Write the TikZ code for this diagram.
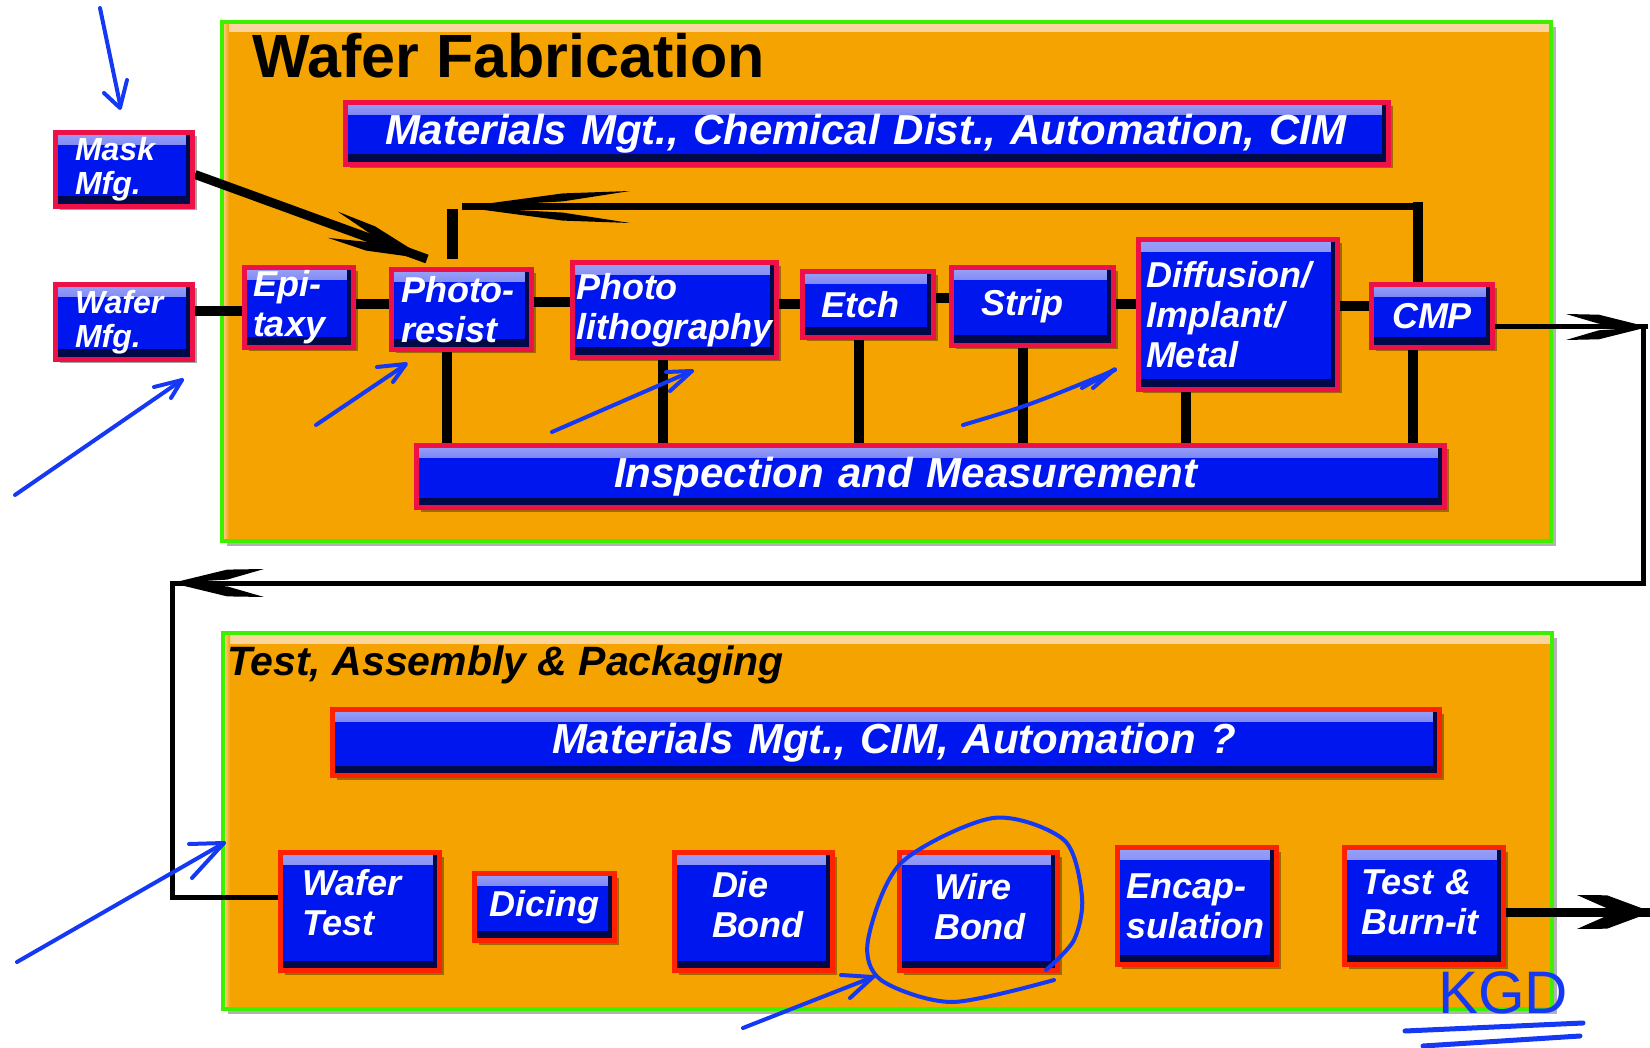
\documentclass[tikz,border=0pt]{standalone}
\usepackage{fontspec}
\setmainfont{Liberation Sans}
\usetikzlibrary{shadows}
\pgfdeclarelayer{back}\pgfdeclarelayer{mid}\pgfdeclarelayer{front}
\pgfsetlayers{back,mid,main,front}
\definecolor{bxblue}{HTML}{0016EE}
\definecolor{bvtop}{HTML}{9AA2F6}
\definecolor{bvdark}{HTML}{000A48}
\definecolor{redtop}{HTML}{EE1148}
\definecolor{redbot}{HTML}{FF2200}
\definecolor{orgfill}{HTML}{F5A300}
\definecolor{orglight}{HTML}{FAD7A0}
\definecolor{grn}{HTML}{3CF000}
\definecolor{annblue}{HTML}{1538F5}
\newcommand\fontbx{\fontsize{36}{40}\selectfont\bfseries\itshape\hyphenpenalty=10000 }
\newcommand\fontbig{\fontsize{42}{46}\selectfont\bfseries\itshape\hyphenpenalty=10000 }
\newcommand\fontsm{\fontsize{32}{34}\selectfont\bfseries\itshape\hyphenpenalty=10000 }
% name, x1, y1, x2, y2, pad, style, text
\newcommand\bx[8]{%
  \pgfmathsetmacro\bxw{#4-#2-5}%
  \pgfmathsetmacro\bxh{#5-#3-5}%
  \pgfmathsetmacro\bxt{#4-#2-2*#6}%
  \node[#7,minimum width=\bxw pt,minimum height=\bxh pt,text width=\bxt pt] (#1) at ({(#2+#4)/2},{(#3+#5)/2}) {#8};}
% coordinate, angle, length, half width, thickness
\newcommand\barbs[5]{%
  \fill[shift={(#1)},rotate=#2] (0,0) -- ({0.6*#3},{-0.6*#4-#5/2}) -- (#3,-#4) -- ({0.6*#3},{-0.6*#4+#5/2}) -- cycle
  (0,0) -- ({0.6*#3},{0.6*#4+#5/2}) -- (#3,#4) -- ({0.6*#3},{0.6*#4-#5/2}) -- cycle;}
\begin{document}
\begin{tikzpicture}[x=1pt,y=-1pt,
  bevel/.style={path picture={
    \shade[top color=bvtop,bottom color=bxblue] (path picture bounding box.north west) rectangle ([yshift=-12pt]path picture bounding box.north east);
    \fill[bvdark] ([xshift=-7pt]path picture bounding box.north east) rectangle (path picture bounding box.south east);
    \fill[bvdark] (path picture bounding box.south west) rectangle ([yshift=10pt]path picture bounding box.south east);
  }},
  bx/.style={draw=redtop,line width=5pt,fill=bxblue,bevel,text=white,inner sep=0pt,align=left,font=\fontbx,
    drop shadow={shadow xshift=4pt,shadow yshift=-4pt,fill=black,opacity=0.35}},
  bxb/.style={bx,draw=redbot},
  gbox/.style={fill=orgfill,draw=grn,line width=4pt,inner sep=0pt,
    drop shadow={shadow xshift=5pt,shadow yshift=-5pt,fill=black,opacity=0.3},
    path picture={
      \shade[top color=orglight,bottom color=orgfill] (path picture bounding box.north west) rectangle ([yshift=-10pt]path picture bounding box.north east);
      \shade[left color=orglight,right color=orgfill] (path picture bounding box.north west) rectangle ([xshift=7pt]path picture bounding box.south west);
    }},
  conn/.style={line width=10pt,black},
  thinc/.style={line width=5pt,black,line join=miter},
  note/.style={draw=annblue,line width=4pt,line cap=round,line join=round}
]
\useasboundingbox (0,0) rectangle (1650,1048);

% ---------- section frames
\begin{pgfonlayer}{back}
\node[gbox,minimum width=1329pt,minimum height=519pt] (fab) at (886.5,281.5) {};
\node[gbox,minimum width=1329pt,minimum height=376pt] (tap) at (887.5,821) {};
\end{pgfonlayer}

\node[anchor=base west,inner sep=0pt,font=\fontsize{61}{70}\selectfont\bfseries] (t1) at (252,78) {Wafer Fabrication};
\node[anchor=base west,inner sep=0pt,font=\fontsize{41}{48}\selectfont\bfseries\itshape] (t2) at (227,675) {Test, Assembly \& Packaging};

% ---------- boxes: wafer fabrication
\bx{mat1}{343}{100}{1391}{167}{42}{bx,font=\fontbig}{\mbox{Materials Mgt., Chemical Dist., Automation, CIM}}
\bx{insp}{414}{443}{1447}{510}{200}{bx,font=\fontbig}{\mbox{Inspection and Measurement}}
\bx{mask}{53}{130}{195}{209}{22}{bx,font=\fontsm}{Mask\\Mfg.}
\bx{wafer}{53}{282}{195}{362}{22}{bx,font=\fontsm}{Wafer\\Mfg.}
\bx{epi}{242}{265}{356}{350}{11}{bx}{Epi-\\taxy}
\bx{pr}{389}{267}{534}{352}{12}{bx}{Photo-\\resist}
\bx{pl}{570}{260}{779}{360}{6}{bx}{Photo\\lithography}
\bx{etch}{800}{269}{936}{340}{21}{bx}{Etch}
\bx{strip}{949}{265}{1116}{348}{32}{bx}{Strip}
\bx{diff}{1136}{237}{1340}{392}{10}{bx}{Diffusion/\\Implant/\\Metal}
\bx{cmp}{1369}{282}{1495}{350}{8}{bx,align=center}{CMP}

% ---------- boxes: test, assembly & packaging
\bx{mat2}{330}{707}{1442}{778}{222}{bxb,font=\fontbig}{\mbox{Materials Mgt.,\hspace{14pt}CIM, Automation ?}}
\bx{wtest}{278}{850}{442}{973}{24}{bxb,text depth=58pt}{Wafer\\Test}
\bx{dicing}{472}{871}{617}{943}{8}{bxb,align=center}{Dicing}
\bx{diebond}{672}{850}{835}{973}{40}{bxb,text depth=54pt}{Die\\Bond}
\bx{wirebond}{897}{850}{1060}{973}{37}{bxb,text depth=50pt}{Wire\\Bond}
\bx{encap}{1115}{845}{1279}{967}{11}{bxb}{Encap-\\sulation}
\bx{tb}{1342}{845}{1506}{967}{19}{bxb,text depth=48pt}{Test \&\\Burn-it}

% ---------- connectors
\coordinate (ha) at (0,311); \coordinate (hb) at (0,304); \coordinate (hc) at (0,302);
\coordinate (hd) at (0,304); \coordinate (he) at (0,298); \coordinate (hf) at (0,304);
\coordinate (hg) at (0,306);
\coordinate (va) at (447,0); \coordinate (vb) at (663,0); \coordinate (vc) at (859,0);
\coordinate (vd) at (1023,0); \coordinate (ve) at (1186,0); \coordinate (vf) at (1413,0);
\coordinate (fbR) at (1418,207); \coordinate (fbtip) at (462,207); \coordinate (fbbar) at (452,209);
\coordinate (mtip) at (427,259);
\coordinate (cR) at (1643,327); \coordinate (cRtip) at (1648,327);
\coordinate (cL) at (172,583); \coordinate (cB) at (172,897);
\coordinate (oT) at (1652,912);
\begin{pgfonlayer}{mid}
\draw[conn] (wafer.east |- ha) -- (epi.west |- ha);
\draw[conn] (epi.east |- hb) -- (pr.west |- hb);
\draw[conn] (pr.east |- hc) -- (pl.west |- hc);
\draw[conn] (pl.east |- hd) -- (etch.west |- hd);
\draw[conn] (etch.east |- he) -- (strip.west |- he);
\draw[conn] (strip.east |- hf) -- (diff.west |- hf);
\draw[conn] (diff.east |- hg) -- (cmp.west |- hg);
\draw[conn] (va |- pr.south) -- (va |- insp.north);
\draw[conn] (vb |- pl.south) -- (vb |- insp.north);
\draw[conn] (vc |- etch.south) -- (vc |- insp.north);
\draw[conn] (vd |- strip.south) -- (vd |- insp.north);
\draw[conn] (ve |- diff.south) -- (ve |- insp.north);
\draw[conn] (vf |- cmp.south) -- (vf |- insp.north);
% feedback loop
\draw[line width=10pt] (fbR |- cmp.north) -- ([yshift=5pt]fbR);
\draw[line width=7pt] (fbR) -- (fbtip);
\barbs{fbtip}{0}{168}{16}{8}
\draw[line width=11pt] (fbbar) -- ([yshift=8pt]fbbar |- pr.north);
% mask to photoresist
\draw[line width=9pt] ([yshift=-5pt]mask.east) -- (mtip);
\barbs{mtip}{160}{100}{14}{9}
% CMP output and loop back
\draw[thinc] (cmp.east |- cR) -- (cRtip);
\barbs{cRtip}{180}{82}{13}{9}
\draw[thinc] (cR) -- (cR |- cL) -- (cL) -- (cB) -- (wtest.west |- cB);
\barbs{cL}{0}{92}{14}{10}
% final output
\draw[line width=9pt] (tb.east |- oT) -- (oT);
\barbs{oT}{180}{75}{17}{13}
\end{pgfonlayer}

% ---------- hand annotations
\begin{pgfonlayer}{front}
\draw[note] (100,8) -- (120,104);
\draw[note] (104,93) -- (120,108) -- (127,80);
\draw[note] (15,495) -- (182,380);
\draw[note] (154,387) -- (182,380) -- (171,398);
\draw[note] (316,425) -- (405,365);
\draw[note] (377,367) -- (406,364) -- (393,382);
\draw[note] (552,432) -- (692,371);
\draw[note] (666,372) -- (692,371) -- (670,391);
\draw[note] (963,425) .. controls (1030,405) .. (1115,370);
\draw[note] (1082,388) -- (1115,369) -- (1093,388);
\draw[note] (17,962) -- (224,843);
\draw[note] (189,844) -- (224,843) -- (192,878);
\draw[note] (743,1028) -- (873,977);
\draw[note] (841,975) -- (873,977) -- (850,998);
\draw[note] plot[smooth] coordinates {(1054,980) (952,1002) (881,980) (868,940) (901,863) (993,818) (1064,840) (1082,897) (1074,940) (1046,970)};
\node[anchor=base west,inner sep=0pt,text=annblue,font=\fontsize{60}{60}\selectfont] (kgd) at (1438,1013) {KGD};
\draw[note,line width=5pt] (1405,1031) -- (1583,1023);
\draw[note,line width=5pt] (1423,1046) -- (1580,1036);
\end{pgfonlayer}
\end{tikzpicture}
\end{document}
